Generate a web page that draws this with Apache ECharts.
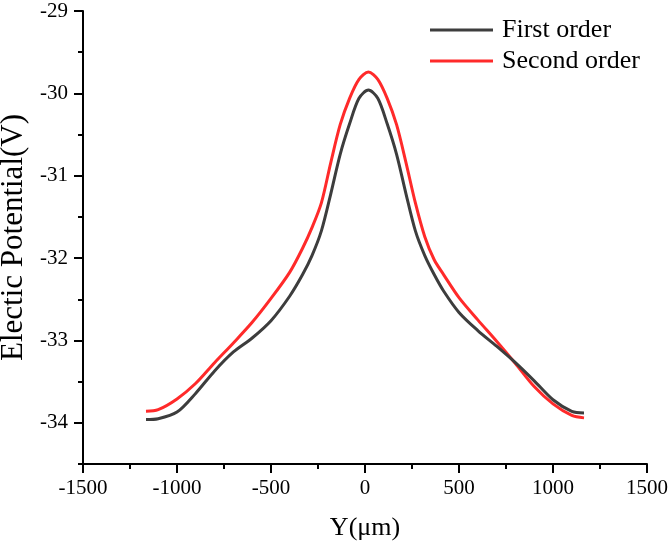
<!DOCTYPE html>
<html>
<head>
<meta charset="utf-8">
<script src="https://cdn.jsdelivr.net/npm/echarts@6/dist/echarts.min.js"></script>
<style>
  html, body { margin: 0; padding: 0; background: #fff; }
  #chart { width: 671px; height: 545px; }
</style>
</head>
<body>
<div id="chart"></div>
<script>
// positions along Y (um) (denser round the peak at ~18)
var yPos = [-1165, -1100, -1000, -900, -800, -700, -600, -500, -400, -332, -282, -232,
    -182, -132, -82, -32, 18, 68, 118, 168, 218, 268, 318, 368, 418, 500, 600, 700,
    800, 900, 1000, 1100, 1165]

// potential (V) for each order
var firstOrder = [-33.96, -33.95, -33.87, -33.64, -33.37, -33.14, -32.97, -32.76, -32.46,
    -32.20, -31.97, -31.67, -31.22, -30.74, -30.37, -30.06, -29.96, -30.06, -30.37, -30.74,
    -31.22, -31.67, -31.97, -32.20, -32.40, -32.66, -32.88, -33.07, -33.27, -33.49, -33.72,
    -33.86, -33.88]

var secondOrder = [-33.86, -33.84, -33.71, -33.52, -33.27, -33.03, -32.78, -32.49, -32.17,
    -31.88, -31.63, -31.33, -30.84, -30.38, -30.06, -29.83, -29.74, -29.83, -30.06, -30.38,
    -30.84, -31.33, -31.74, -32.02, -32.20, -32.48, -32.75, -33.01, -33.28, -33.56, -33.77,
    -33.91, -33.94]

var seriesNames = ['First order', 'Second order']
var yMajorTicks = [-34, -33, -32, -31, -30, -29]

var font = 'Liberation Serif'

function pairs(xs, ys) {
    return xs.map(function (x, i) { return [x, ys[i]] })
}

var chart = echarts.init(document.getElementById('chart'))

var option = {
    animation: false,
    backgroundColor: '#fff',
    grid: { left: 83, right: 24, top: 11, bottom: 81, outerBoundsMode: 'none', containLabel: false },
    legend: {
        orient: 'vertical',
        left: 430,
        top: 17,
        padding: 0,
        icon: 'rect',
        itemWidth: 63,
        itemHeight: 3,
        itemGap: 5,
        data: seriesNames,
        textStyle: { fontFamily: font, fontSize: 26, color: '#000', padding: [0, 0, 0, 4] }
    },
    xAxis: {
        type: 'value',
        min: -1500,
        max: 1500,
        interval: 500,
        name: 'Y(μm)',
        nameLocation: 'middle',
        nameGap: 51,
        nameTextStyle: { fontFamily: font, fontSize: 26, color: '#000' },
        axisLine: { onZero: false, lineStyle: { color: '#000', width: 2 } },
        axisTick: { show: true, length: 9, lineStyle: { color: '#000', width: 2 } },
        minorTick: { show: true, splitNumber: 2, length: 5, lineStyle: { color: '#000', width: 2 } },
        splitLine: { show: false },
        axisLabel: {
            fontFamily: font, fontSize: 21, color: '#000', margin: 14,
            formatter: function (v) { return String(v) }
        }
    },
    yAxis: [{
        type: 'value',
        min: -34.5,
        max: -29,
        interval: 0.5,
        name: 'Electic Potential(V)',
        nameLocation: 'middle',
        nameGap: 54,
        nameTextStyle: { fontFamily: font, fontSize: 31, color: '#000' },
        axisLine: { onZero: false, lineStyle: { color: '#000', width: 2 } },
        axisTick: { show: true, length: 9, customValues: yMajorTicks, lineStyle: { color: '#000', width: 2 } },
        splitLine: { show: false },
        axisLabel: {
            fontFamily: font, fontSize: 21, color: '#000', margin: 15,
            customValues: yMajorTicks
        }
    }, {
        // minor ticks at the half volts
        type: 'value',
        position: 'left',
        min: -34.5,
        max: -29,
        interval: 0.5,
        axisLine: { show: false, onZero: false },
        axisTick: { show: true, length: 5, lineStyle: { color: '#000', width: 2 } },
        axisLabel: { show: false },
        splitLine: { show: false }
    }],
    series: [{
        name: seriesNames[0],
        type: 'line',
        smooth: 0.3,
        symbol: 'none',
        data: pairs(yPos, firstOrder),
        lineStyle: { color: '#3d3d3d', width: 3 },
        itemStyle: { color: '#3d3d3d' },
        z: 3
    }, {
        name: seriesNames[1],
        type: 'line',
        smooth: 0.3,
        symbol: 'none',
        data: pairs(yPos, secondOrder),
        lineStyle: { color: '#ff2a2a', width: 3 },
        itemStyle: { color: '#ff2a2a' },
        z: 2
    }]
}

chart.setOption(option)
</script>
</body>
</html>
